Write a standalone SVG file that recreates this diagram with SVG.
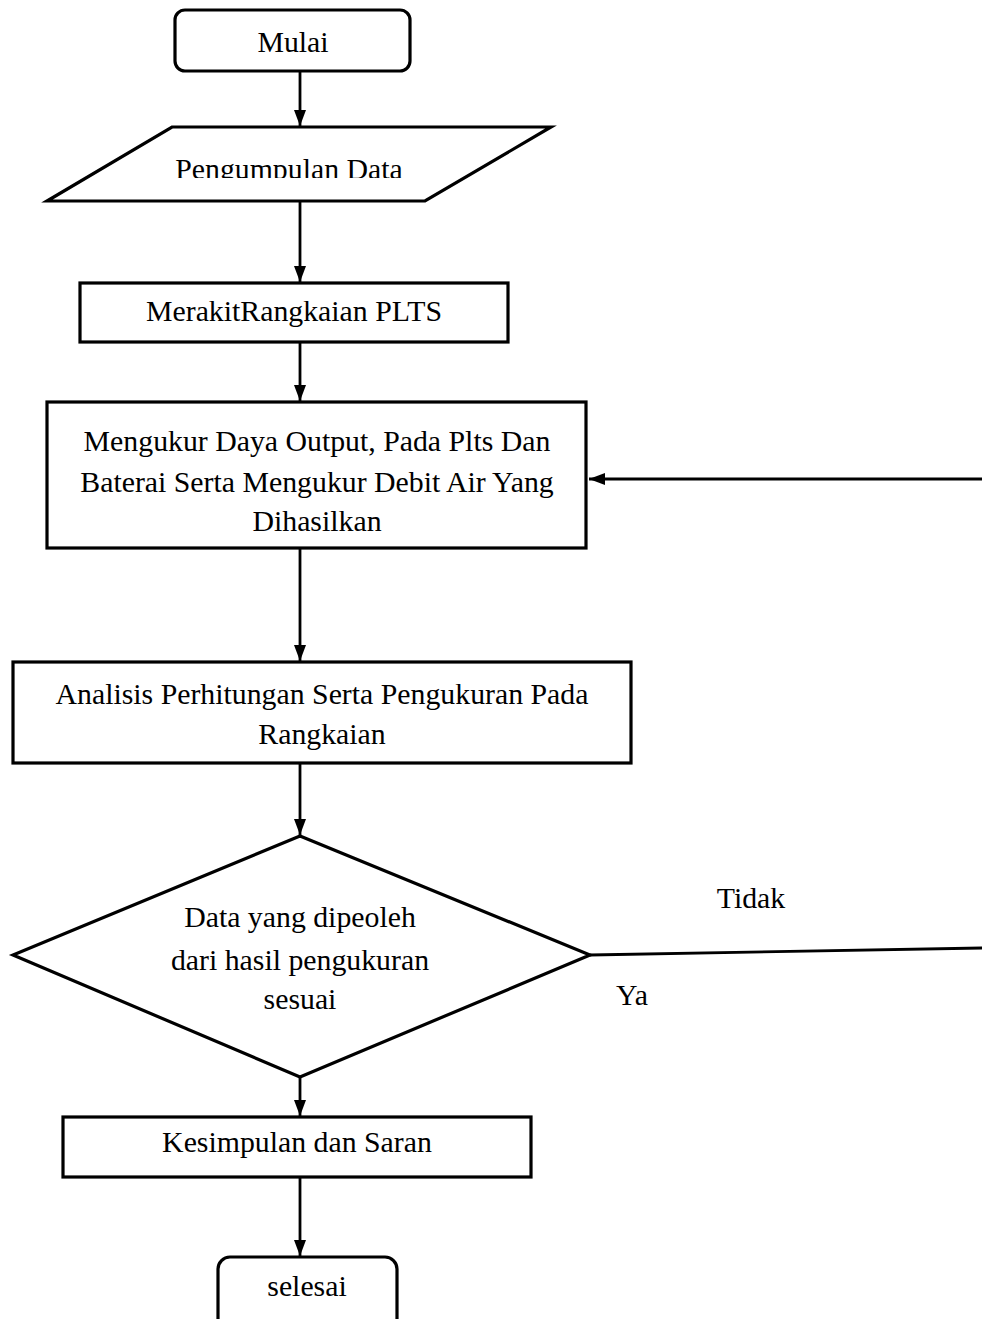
<svg xmlns="http://www.w3.org/2000/svg" width="982" height="1319" viewBox="0 0 982 1319">
<style>
.s{fill:#fff;stroke:#000;stroke-width:3.2}
.c{fill:none;stroke:#000;stroke-width:2.8}
text{font-family:"Liberation Serif","Times New Roman",serif;font-size:29.8px;fill:#000;text-anchor:middle}
</style>
<defs>
<marker id="ah" viewBox="0 0 16 12" refX="16" refY="6" markerWidth="16" markerHeight="12" orient="auto" markerUnits="userSpaceOnUse">
<path d="M0,0 L16,6 L0,12 Z" fill="#000"/>
</marker>
<clipPath id="pclip"><rect x="0" y="120" width="982" height="58"/></clipPath>
</defs>
<rect width="982" height="1319" fill="#fff"/>
<g id="connectors">
<line class="c" x1="300" y1="71" x2="300" y2="126" marker-end="url(#ah)"/>
<line class="c" x1="300" y1="201" x2="300" y2="282" marker-end="url(#ah)"/>
<line class="c" x1="300" y1="342" x2="300" y2="401" marker-end="url(#ah)"/>
<line class="c" x1="982" y1="479" x2="589" y2="479" marker-end="url(#ah)"/>
<line class="c" x1="300" y1="548" x2="300" y2="661" marker-end="url(#ah)"/>
<line class="c" x1="300" y1="763" x2="300" y2="835" marker-end="url(#ah)"/>
<line class="c" x1="590" y1="955" x2="982" y2="948"/>
<line class="c" x1="300" y1="1077" x2="300" y2="1116" marker-end="url(#ah)"/>
<line class="c" x1="300" y1="1177" x2="300" y2="1256" marker-end="url(#ah)"/>
</g>
<g id="mulai">
<rect class="s" x="175" y="10" width="235" height="61" rx="10"/>
<text x="293" y="52">Mulai</text>
</g>
<g id="pengumpulan">
<polygon class="s" points="172,127 551,127 425,201 47,201"/>
<text x="289" y="179" clip-path="url(#pclip)">Pengumpulan Data</text>
</g>
<g id="merakit">
<rect class="s" x="80" y="283" width="428" height="59"/>
<text x="294" y="321">MerakitRangkaian PLTS</text>
</g>
<g id="mengukur">
<rect class="s" x="47" y="402" width="539" height="146"/>
<text x="317" y="451">Mengukur Daya Output, Pada Plts Dan</text>
<text x="317" y="492">Baterai Serta Mengukur Debit Air Yang</text>
<text x="317" y="531">Dihasilkan</text>
</g>
<g id="analisis">
<rect class="s" x="13" y="662" width="618" height="101"/>
<text x="322" y="704">Analisis Perhitungan Serta Pengukuran Pada</text>
<text x="322" y="744">Rangkaian</text>
</g>
<g id="keputusan">
<polygon class="s" points="300,836 590,955 300,1077 13,955"/>
<text x="300" y="927">Data yang dipeoleh</text>
<text x="300" y="970">dari hasil pengukuran</text>
<text x="300" y="1009">sesuai</text>
</g>
<g id="labels">
<text x="751" y="908">Tidak</text>
<text x="632" y="1005">Ya</text>
</g>
<g id="kesimpulan">
<rect class="s" x="63" y="1117" width="468" height="60"/>
<text x="297" y="1152">Kesimpulan dan Saran</text>
</g>
<g id="selesai">
<rect class="s" x="218" y="1257" width="179" height="80" rx="12"/>
<text x="307" y="1296">selesai</text>
</g>
</svg>
